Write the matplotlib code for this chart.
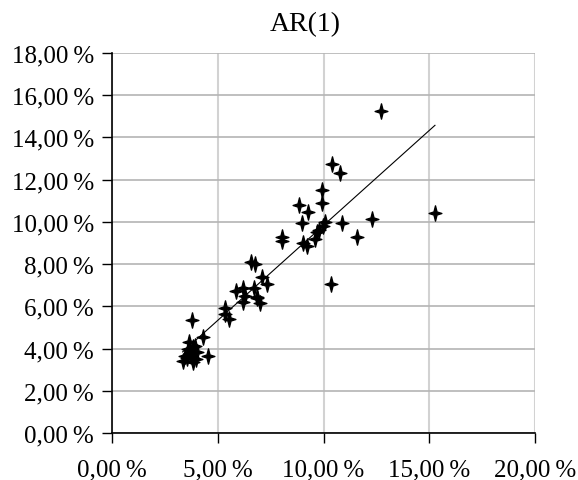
import numpy as np
import matplotlib
matplotlib.use("Agg")
import matplotlib.pyplot as plt
from matplotlib.path import Path
from matplotlib.ticker import FuncFormatter

# values in percent
x_vals = [3.34, 3.85, 3.47, 3.53, 3.69, 3.77, 3.97, 4.00, 3.61, 3.85, 3.92, 3.66, 4.52, 4.28, 3.77,
          5.34, 5.34, 5.55, 6.18, 6.84, 6.98,
          5.86, 6.18, 6.29, 6.71, 7.08, 7.31, 6.56, 6.76, 6.84,
          8.02, 8.02, 8.86, 9.28, 8.97, 9.05, 9.23, 9.60, 9.68, 9.80, 9.96, 10.07, 9.91, 9.91,
          10.40, 10.78, 10.86, 11.57, 12.31, 10.35, 15.27, 12.70]
y_vals = [3.42, 3.35, 3.66, 3.53, 3.74, 3.58, 3.50, 3.82, 3.98, 4.06, 4.13, 4.29, 3.63, 4.53, 5.37,
          5.64, 5.90, 5.40, 6.19, 6.40, 6.15,
          6.74, 6.85, 6.50, 6.85, 7.37, 7.06, 8.08, 8.00, 6.45,
          9.27, 9.08, 10.80, 10.45, 9.93, 8.99, 8.87, 9.19, 9.51, 9.63, 9.82, 9.98, 10.90, 11.52,
          12.74, 12.32, 9.93, 9.27, 10.14, 7.06, 10.41, 15.27]
title = "AR(1)"

x = np.array(x_vals)
y = np.array(y_vals)
slope, intercept = np.polyfit(x, y, 1)
xfit = np.array([x.min(), x.max()])

plt.rcParams['font.family'] = ['Liberation Serif', 'DejaVu Serif']

# four-pointed star marker
star = Path([(0, 1.2), (0.24, 0.24), (1, 0), (0.24, -0.24), (0, -1.2),
             (-0.24, -0.24), (-1, 0), (-0.24, 0.24), (0, 1.2)],
            [Path.MOVETO] + [Path.LINETO] * 7 + [Path.CLOSEPOLY])

fig = plt.figure(figsize=(5.78, 4.81), dpi=100)
ax = fig.add_axes([112 / 578, 47 / 481, 423 / 578, 380 / 481])

ax.plot(x, y, linestyle='none', marker=star, markersize=11, color='black', zorder=3)
ax.plot(xfit, slope * xfit + intercept, color='black', linewidth=0.8, zorder=2)

ax.set_xlim(0, 20)
ax.set_ylim(0, 18)
ax.set_xticks(np.arange(0, 21, 5))
ax.set_yticks(np.arange(0, 19, 2))
fmt = FuncFormatter(lambda v, p: ("%.2f\u2009%%" % v).replace('.', ','))
ax.xaxis.set_major_formatter(fmt)
ax.yaxis.set_major_formatter(fmt)
ax.tick_params(direction='out', length=7, width=1, labelsize=18)
ax.tick_params(axis='y', pad=6)
ax.tick_params(axis='x', pad=11)

ax.grid(axis='y', color='#b4b4b4', linewidth=1.2)
ax.grid(axis='x', color='#d2d2d2', linewidth=1.5)
ax.set_axisbelow(True)
for s in ['top', 'right']:
    ax.spines[s].set_visible(False)
for s in ['left', 'bottom']:
    ax.spines[s].set_linewidth(1.2)

fig.text(305 / 578, 1 - 25 / 481, title, ha='center', va='center', fontsize=20)

fig.savefig("out.png", dpi=100)
